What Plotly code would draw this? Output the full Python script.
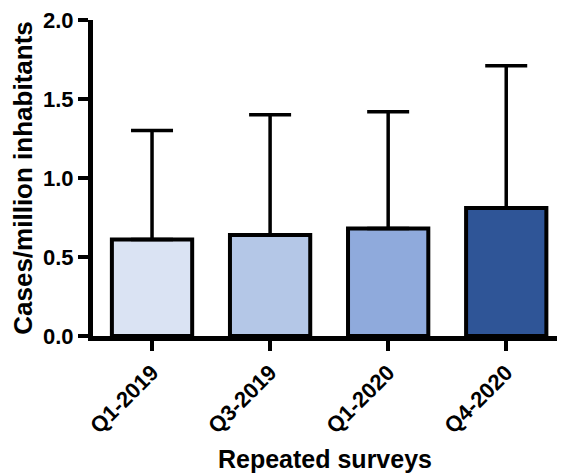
import plotly.graph_objects as go

categories = ["Q1-2019", "Q3-2019", "Q1-2020", "Q4-2020"]
means = [0.61, 0.64, 0.68, 0.81]
upper_err = [0.69, 0.76, 0.74, 0.90]
colors = ["#DAE3F3", "#B4C7E7", "#8FAADC", "#2F5597"]
y_ticks = [0.0, 0.5, 1.0, 1.5, 2.0]
y_tick_labels = ["0.0", "0.5", "1.0", "1.5", "2.0"]

FONT = "Arial, Liberation Sans, sans-serif"

fig = go.Figure()
fig.add_trace(go.Bar(
    x=categories, y=means,
    width=0.68,
    marker=dict(color=colors, line=dict(color="black", width=4)),
    error_y=dict(type="data", symmetric=False, array=upper_err,
                 arrayminus=[0] * len(means),
                 color="black", thickness=3.5, width=21),
))

fig.update_layout(
    width=566, height=473,
    margin=dict(l=93, r=9, t=20, b=137),
    paper_bgcolor="white", plot_bgcolor="white",
    showlegend=False,
    font=dict(family=FONT, color="black", weight="bold"),
)
fig.update_xaxes(
    type="category", range=[-0.5, 3.43],
    showline=True, linecolor="black", linewidth=5,
    ticks="outside", ticklen=10, tickwidth=4, tickcolor="black",
    tickangle=-45, tickfont=dict(size=22, family=FONT, weight="bold"),
    showgrid=False, zeroline=False,
    title=dict(text="Repeated surveys", font=dict(size=25, family=FONT, weight="bold"), standoff=33),
    automargin=False,
)
fig.update_yaxes(
    range=[0, 2.0],
    tickvals=y_ticks, ticktext=y_tick_labels,
    showline=True, linecolor="black", linewidth=5,
    ticks="outside", ticklen=10, tickwidth=4, tickcolor="black",
    tickfont=dict(size=22, family=FONT, weight="bold"),
    showgrid=False, zeroline=False,
    title=dict(text="Cases/million inhabitants", font=dict(size=26, family=FONT, weight="bold"), standoff=4),
    automargin=False,
)

fig.write_html(
    "out.html",
    config={"displayModeBar": False},
    post_script="document.body.style.margin='0';document.body.style.overflow='hidden';",
)
